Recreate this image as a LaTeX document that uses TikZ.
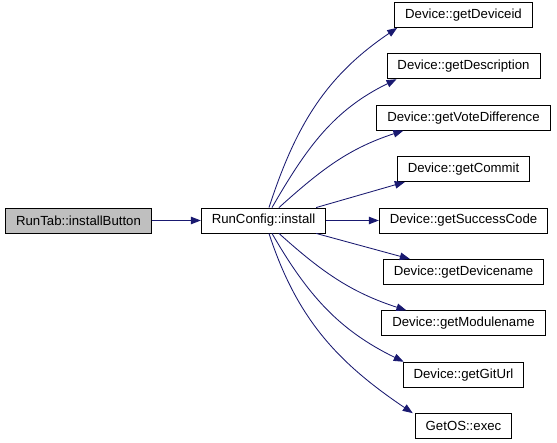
\documentclass[tikz,border=0pt]{standalone}
\usepackage{fontspec}
\setmainfont{Liberation Sans}
\usetikzlibrary{arrows.meta,positioning}
\definecolor{edgeblue}{RGB}{25,25,112}
\definecolor{callerfill}{RGB}{191,191,191}

\begin{document}
\begin{tikzpicture}[
    x=1pt, y=1pt,
    node distance=25.5pt,
    fnbox/.style={rectangle, draw=black, line width=0.9pt, fill=white,
                 minimum height=25pt, inner xsep=10.5pt, inner ysep=0pt,
                 font=\fontsize{13.2}{16}\selectfont},
    callerbox/.style={fnbox, fill=callerfill},
    arr/.style={-{Triangle[length=10pt,width=7.5pt]}, line width=0.85pt, edgeblue}
]
\useasboundingbox (0,0) rectangle (557,-443);
\node[callerbox] (installButton) at (78.5,-220.5) {RunTab::installButton};
\node[fnbox, right=49pt of installButton] (install) {RunConfig::install};
% called functions, one column
\node[fnbox] (getSuccessCode) at (463.5,-220.5) {Device::getSuccessCode};
\node[fnbox, above=of getSuccessCode] (getCommit) {Device::getCommit};
\node[fnbox, above=of getCommit] (getVoteDifference) {Device::getVoteDifference};
\node[fnbox, above=of getVoteDifference] (getDescription) {Device::getDescription};
\node[fnbox, above=of getDescription] (getDeviceid) {Device::getDeviceid};
\node[fnbox, below=of getSuccessCode] (getDevicename) {Device::getDevicename};
\node[fnbox, below=of getDevicename] (getModulename) {Device::getModulename};
\node[fnbox, below=of getModulename] (getGitUrl) {Device::getGitUrl};
\node[fnbox, below=of getGitUrl] (exec) {GetOS::exec};
\draw[arr] (installButton) -- (install);
\draw[arr] ([xshift=5.5pt]install.north) to[out=72, in=214] ([xshift=3pt]getDeviceid.south west);
\draw[arr] ([xshift=8.5pt]install.north) to[out=60, in=206] ([xshift=10pt]getDescription.south west);
\draw[arr] ([xshift=15.5pt]install.north) to[out=42, in=198] ([xshift=27pt]getVoteDifference.south west);
\draw[arr] ([xshift=-10pt]install.north east) -- ([xshift=8pt]getCommit.south west);
\draw[arr] (install) -- (getSuccessCode);
\draw[arr] ([xshift=-10pt]install.south east) -- ([xshift=27pt]getDevicename.north west);
\draw[arr] ([xshift=15.5pt]install.south) to[out=-42, in=162] ([xshift=25pt]getModulename.north west);
\draw[arr] ([xshift=8.5pt]install.south) to[out=-60, in=154] ([xshift=1pt]getGitUrl.north west);
\draw[arr] ([xshift=5.5pt]install.south) to[out=-72, in=146] ([xshift=-2pt]exec.north west);
\end{tikzpicture}
\end{document}
